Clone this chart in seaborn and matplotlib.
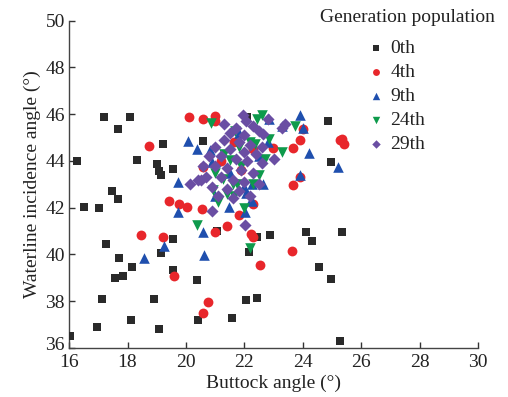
import numpy as np
import pandas as pd
import matplotlib
matplotlib.use("Agg")
import matplotlib.pyplot as plt
import matplotlib.transforms as mtransforms
import seaborn as sns

generations = ["0th", "4th", "9th", "24th", "29th"]

gen0_x = [16.27, 16.03, 17.2, 18.07, 17.69, 19.23, 18.34, 19.0, 19.07, 19.15, 19.57, 17.46, 17.69, 16.52,
          17.03, 17.27, 19.57, 17.72, 19.14, 18.15, 17.58, 17.83, 19.57, 20.37, 17.13, 18.9, 16.95, 18.11,
          19.09, 20.43, 22.16, 22.43, 22.88, 24.12, 24.31, 25.34, 24.57, 24.98, 22.06, 22.45, 21.59, 25.29,
          24.86, 24.98, 20.6, 21.06, 22.1]
gen0_y = [44.0, 36.5, 45.9, 45.9, 45.37, 44.73, 44.03, 43.88, 43.55, 43.42, 43.67, 42.71, 42.39, 42.01,
          41.98, 40.44, 40.66, 39.85, 40.05, 39.45, 38.99, 39.06, 39.33, 38.92, 38.10, 38.10, 36.91, 37.18,
          36.80, 37.18, 40.09, 40.73, 40.82, 40.95, 40.56, 40.96, 39.46, 38.97, 38.06, 38.12, 37.28, 36.29,
          45.7, 43.94, 44.87, 41.0, 45.9]

gen4_x = [18.72, 19.43, 19.77, 20.04, 20.56, 18.47, 19.22, 19.6, 20.74, 20.6, 21.0, 21.4, 21.8, 22.22,
          22.28, 22.54, 20.12, 20.58, 20.98, 21.0, 20.58, 21.63, 22.98, 23.68, 23.91, 24.02, 25.28, 23.89,
          25.34, 25.42, 23.68, 22.31, 23.62, 21.9, 22.3, 21.2]
gen4_y = [44.63, 42.28, 42.18, 42.04, 41.94, 40.82, 40.73, 39.1, 37.97, 37.49, 40.98, 41.2, 41.69, 40.88,
          40.73, 39.56, 45.88, 45.79, 45.93, 45.71, 43.74, 44.81, 44.55, 44.55, 44.88, 45.38, 44.88, 43.31,
          44.95, 44.74, 42.98, 42.17, 40.16, 43.6, 44.5, 44.0]

gen9_x = [19.74, 19.74, 20.06, 20.37, 20.83, 20.89, 20.58, 20.63, 19.25, 18.58, 21.46, 22.03, 22.06, 22.22,
          22.83, 23.91, 24.02, 24.23, 25.22, 23.91, 22.65, 22.26, 22.26, 21.5, 22.5, 21.0, 22.8, 21.8,
          23.3, 22.0]
gen9_y = [43.12, 41.81, 44.84, 44.5, 44.45, 43.95, 40.95, 39.96, 40.38, 39.85, 42.05, 41.81, 42.62, 42.34,
          45.81, 45.96, 45.41, 44.34, 43.74, 43.38, 43.02, 42.3, 43.02, 43.5, 44.2, 42.5, 44.8, 45.2,
          45.5, 42.9]

gen24_x = [20.85, 21.68, 21.51, 22.6, 23.74, 23.28, 22.83, 22.37, 22.31, 20.37, 22.2, 21.11, 21.63, 21.74,
           20.94, 21.28, 22.43, 21.3, 21.9, 22.2, 21.0, 22.5, 21.6, 22.0, 21.4, 22.7, 21.8]
gen24_y = [45.62, 45.28, 44.03, 45.96, 45.48, 44.38, 44.95, 44.74, 43.0, 41.24, 40.28, 42.24, 42.52, 43.02,
           42.74, 43.24, 45.81, 44.3, 43.8, 44.8, 43.5, 43.4, 43.0, 42.0, 42.6, 44.1, 44.6]

gen29_x = [21.94, 22.05, 22.3, 21.7, 22.5, 21.5, 22.0, 22.65, 21.3, 21.8, 22.2, 22.6, 21.0, 21.5, 22.0,
           22.4, 20.8, 21.2, 21.7, 22.1, 22.6, 20.6, 21.0, 21.4, 21.9, 22.3, 20.7, 21.2, 21.6, 22.0, 22.5,
           20.9, 21.4, 21.8, 22.2, 21.1, 21.6, 20.14, 20.89, 22.03, 23.4, 23.0, 23.3, 22.8, 20.5, 21.3, 20.4]
gen29_y = [45.96, 45.7, 45.5, 45.4, 45.3, 45.2, 45.1, 45.17, 44.9, 44.8, 44.7, 44.6, 44.6, 44.5, 44.4,
           44.3, 44.2, 44.2, 44.1, 44.0, 43.9, 43.8, 43.8, 43.7, 43.6, 43.5, 43.3, 43.3, 43.2, 43.1, 43.0,
           42.9, 42.8, 42.7, 42.5, 42.5, 42.4, 43.0, 41.85, 41.28, 45.6, 44.1, 45.4, 45.8, 43.2, 45.6, 43.2]

x_ticks = [16, 18, 20, 22, 24, 26, 28, 30]
y_ticks = [36, 38, 40, 42, 44, 46, 48, 50]
legend_title = "Generation population"

frames = []
for g, xs, ys in zip(generations,
                     [gen0_x, gen4_x, gen9_x, gen24_x, gen29_x],
                     [gen0_y, gen4_y, gen9_y, gen24_y, gen29_y]):
    frames.append(pd.DataFrame({"x": xs, "y": ys, "gen": g}))
df = pd.concat(frames, ignore_index=True)

sns.set_style("ticks")
plt.rcParams["font.family"] = ["Liberation Serif", "DejaVu Serif"]

FS = 14
fig = plt.figure(figsize=(5.08, 3.97), dpi=100)
ax = fig.add_axes([0.136, 1 - 348 / 397, 0.805, (348 - 20.7) / 397])

palette = {"0th": "#2a2a2a", "4th": "#e8262b", "9th": "#1f4fae", "24th": "#0e9a4c", "29th": "#6a4ea3"}
markers = {"0th": "s", "4th": "o", "9th": "^", "24th": "v", "29th": "D"}
sizes = {"0th": 40, "4th": 50, "9th": 58, "24th": 58, "29th": 38}

for g in generations:
    sub = df[df["gen"] == g]
    sns.scatterplot(data=sub, x="x", y="y", color=palette[g], marker=markers[g],
                    s=sizes[g], linewidth=0, ax=ax, label=g, zorder=3)

ax.set_xlim(16, 30)
ax.set_ylim(36, 50)
ax.set_xticks(x_ticks)
ax.set_yticks(y_ticks)
ax.tick_params(direction="in", length=4, width=1, labelsize=FS, colors="#333333",
               labelcolor="#222222", pad=3)
ax.tick_params(axis="x", pad=4)
for s in ["top", "right"]:
    ax.spines[s].set_visible(False)
for s in ["left", "bottom"]:
    ax.spines[s].set_color("#444444")
    ax.spines[s].set_linewidth(1)

ax.set_xlabel("Buttock angle (°)", fontsize=FS, color="#222222", labelpad=3)
ax.set_ylabel("Waterline incidence angle (°)", fontsize=FS, color="#222222", labelpad=3)

# nudge the lowest y tick label up so it does not collide with the first x tick label
fig.canvas.draw()
lowest = ax.get_yticklabels()[0]
lowest.set_transform(lowest.get_transform() +
                     mtransforms.ScaledTranslation(0, 5 / 100, fig.dpi_scale_trans))

fig.text(407 / 508, 1 - 17 / 397, legend_title, ha="center", va="center",
         fontsize=FS, color="#222222")

handles, labels = ax.get_legend_handles_labels()
leg = ax.legend(handles, labels, loc="upper left",
                bbox_to_anchor=(364 / 508, 1 - 39 / 397), bbox_transform=fig.transFigure,
                frameon=False, fontsize=FS, labelspacing=0.33,
                handletextpad=0.15, handlelength=1.2, markerscale=0.7, borderpad=0.0,
                borderaxespad=0.0)
for t in leg.get_texts():
    t.set_color("#222222")

fig.savefig("out.png", dpi=100)
